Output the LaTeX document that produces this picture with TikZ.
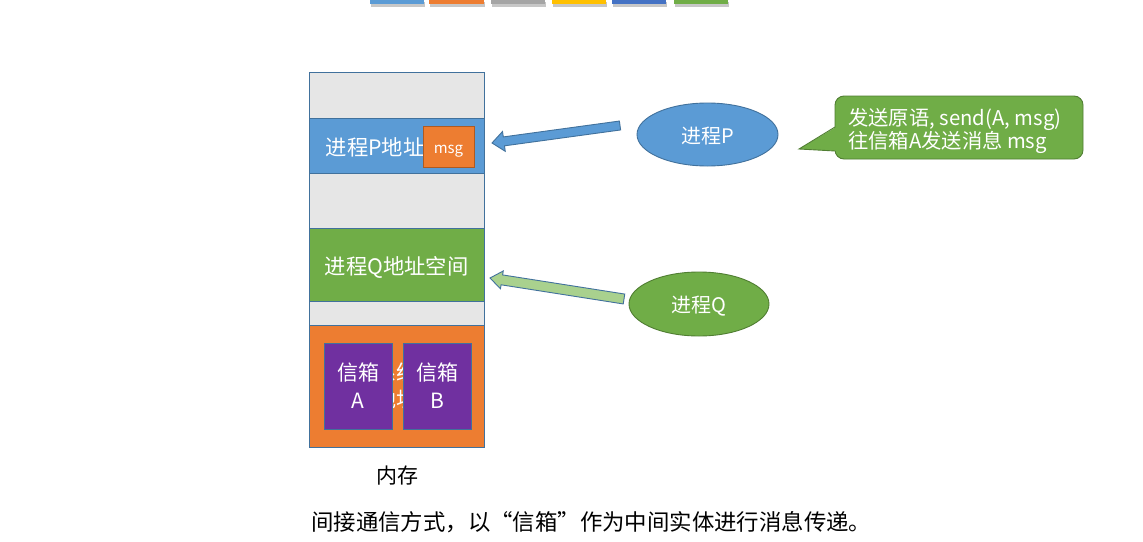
\documentclass[tikz,border=0pt]{standalone}
\usepackage{fontspec}
\setmainfont{Noto Sans CJK SC}
\newfontfamily\capfont[RawFeature=+fwid]{Noto Sans CJK SC}
\usetikzlibrary{shapes.geometric,calc}
\definecolor{cblue}{HTML}{5B9BD5}
\definecolor{corange}{HTML}{ED7D31}
\definecolor{cgray}{HTML}{A5A5A5}
\definecolor{cyellow}{HTML}{FFC000}
\definecolor{cdblue}{HTML}{4472C4}
\definecolor{cgreen}{HTML}{70AD47}
\definecolor{cband}{HTML}{E6E6E6}
\definecolor{cline}{HTML}{41719C}
\definecolor{cgline}{HTML}{507E32}
\definecolor{coline}{HTML}{AE5A21}
\definecolor{cpurple}{HTML}{7030A0}
\definecolor{clgreen}{HTML}{A9D18E}
\newcommand{\blockarr}[6]{\draw[#1] ($(#2)!#5!90:(#3)$) -- ($(#4)!#5!90:(#3)$) -- ($(#4)!#6!90:(#3)$) -- (#3) -- ($(#4)!#6!-90:(#3)$) -- ($(#4)!#5!-90:(#3)$) -- ($(#2)!#5!-90:(#3)$) -- cycle;}
\newcommand{\dn}[2]{\raisebox{-#1}[0pt][0pt]{#2}}
\begin{document}
\begin{tikzpicture}[x=1pt,y=-1pt,
  band/.style={draw=cline, line width=0.8pt, minimum width=175pt, inner sep=0pt, text=white, font=\fontsize{21.3}{25}\selectfont},
  mbox/.style={draw=cline, line width=0.9pt, fill=cpurple, minimum width=68pt, minimum height=86pt, inner sep=0pt, align=center, text=white, font=\fontsize{21}{28}\selectfont},
  proc/.style={ellipse, line width=0.9pt, minimum width=141pt, minimum height=63pt, inner sep=0pt, text=white, font=\fontsize{20}{24}\selectfont},
  barshadow/.style={fill=black!22},
]
\useasboundingbox (0,0) rectangle (1143,541);
\fill[white] (0,0) rectangle (1143,541);

% top colour bar
\foreach \a/\b/\c in {370/424/cblue,429/484/corange,491/545/cgray,552/606/cyellow,612/666/cdblue,674/728/cgreen}{
  \fill[barshadow] (\a+1,1.5) rectangle (\b+1,6.5);
  \fill[\c] (\a,0) rectangle (\b,4);
}

% memory column
\node[band, fill=cband, minimum height=46pt] (b1) at (396.5,95) {};
\node[band, fill=cblue, minimum height=55pt] (bp) at (396.5,145.5) {\dn{9.8pt}{进程P地址空间}};
\node[band, fill=cband, minimum height=55pt] (b2) at (396.5,200.5) {};
\node[band, fill=cgreen, minimum height=73pt] (bq) at (396.5,264.5) {\dn{9.8pt}{进程Q地址空间}};
\node[band, fill=cband, minimum height=24pt] (b3) at (396.5,313) {};
\node[band, fill=corange, minimum height=122pt, align=center, font=\fontsize{21}{27}\selectfont] (bs) at (396.5,386) {系统\\地址};

\node[draw=coline, fill=corange, line width=1pt, minimum width=51pt, minimum height=41pt, inner sep=0pt, text=white, font=\fontsize{15}{18}\selectfont] (msg) at (448.5,146.5) {\dn{7pt}{msg}};

\node[mbox] (mA) at (358,386) {信箱\\A};
\node[mbox] (mB) at (437,386) {信箱\\B};

\node[font=\fontsize{21}{24}\selectfont, inner sep=0pt] (mem) at (397,476) {内存};

% processes
\node[proc, draw=cline, fill=cblue] (P) at (707.5,134.5) {\dn{9pt}{进程P}};
\node[proc, draw=cgline, fill=cgreen, minimum width=140pt, minimum height=64pt] (Q) at (699,304) {\dn{8.5pt}{进程Q}};

% block arrows
\coordinate (pT) at (620,125.5);
\coordinate (pH) at (492,143);
\coordinate (pN) at ($(pH)!12pt!(pT)$);
\blockarr{draw=cline, fill=cblue, line width=0.9pt, line join=miter}{pT}{pH}{pN}{4.5pt}{10pt}
\coordinate (qT) at (624,299);
\coordinate (qH) at (490,278);
\coordinate (qN) at ($(qH)!12pt!(qT)$);
\blockarr{draw=cline, fill=clgreen, line width=0.9pt, line join=miter}{qT}{qH}{qN}{5pt}{9pt}

% callout
\node[draw=cgline, fill=cgreen, rounded corners=9pt, minimum width=248pt, minimum height=63pt, line width=0.9pt] (call) at (959,127.5) {};
\fill[cgreen] (836.2,127) -- (799,149) -- (836.2,151) -- cycle;
\draw[cgline, line width=0.9pt, line join=miter] (835,127) -- (799,149) -- (835,151);
\node[anchor=west, align=left, inner sep=0pt, text=white, font=\fontsize{20.3}{23}\selectfont] (ct) at (848,131) {发送原语, send(A, msg)\\往信箱A发送消息 msg};

% caption
\node[anchor=west, inner sep=0pt, font=\capfont\fontsize{22.4}{26}\selectfont] (cap) at (311,522) {间接通信方式，以“信箱”作为中间实体进行消息传递。};
\end{tikzpicture}
\end{document}
